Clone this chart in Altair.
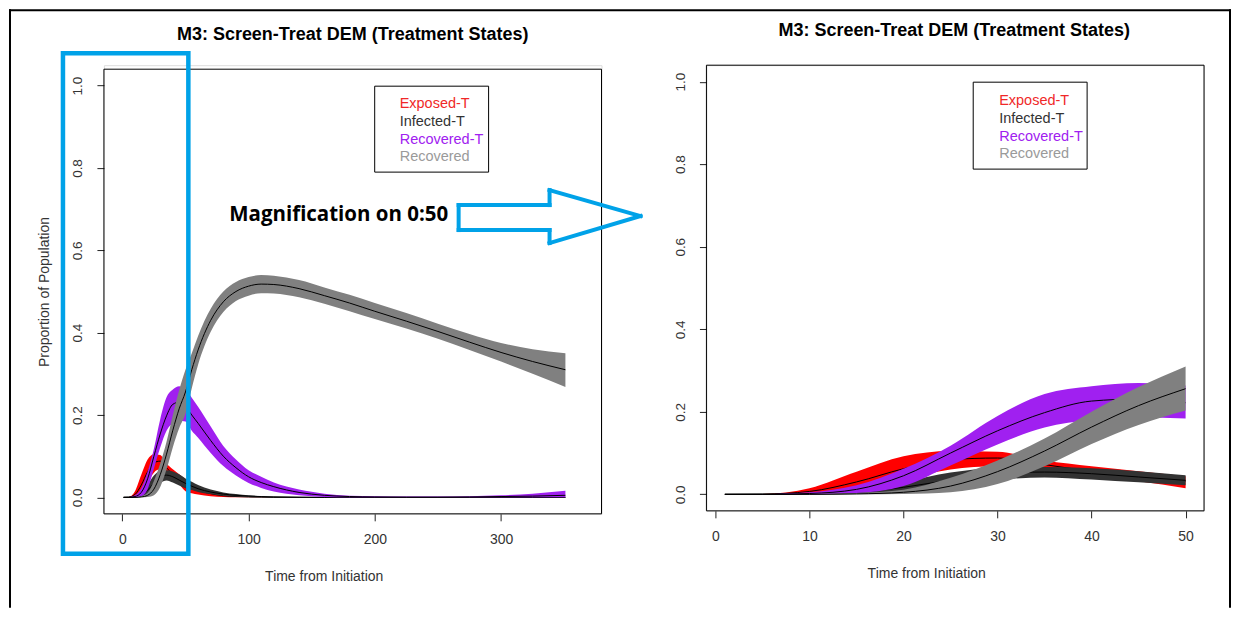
import altair as alt
import pandas as pd

# ---------------- data ----------------
times = [1, 5, 10, 15, 20, 25, 30, 35, 40, 45, 50, 55, 60, 70, 80, 90, 100,
         110, 120, 140, 160, 180, 200, 225, 250, 275, 300, 325, 351]

exposed_mean = [0, 0.0005, 0.007, 0.030, 0.062, 0.084, 0.088, 0.072, 0.056, 0.044, 0.032, 0.024, 0.017,
                0.009, 0.004, 0.002, 0.001, 0.0005, 0, 0, 0, 0, 0, 0, 0, 0, 0, 0, 0]
exposed_lo = [0, 0, 0.002, 0.012, 0.036, 0.060, 0.068, 0.058, 0.045, 0.032, 0.015, 0.010, 0.007,
              0.003, 0.001, 0, 0, 0, 0, 0, 0, 0, 0, 0, 0, 0, 0, 0, 0]
exposed_hi = [0, 0.001, 0.015, 0.055, 0.092, 0.105, 0.103, 0.082, 0.068, 0.056, 0.044, 0.034, 0.026,
              0.015, 0.008, 0.004, 0.002, 0.001, 0.0005, 0, 0, 0, 0, 0, 0, 0, 0, 0, 0]

infected_mean = [0, 0, 0.001, 0.005, 0.017, 0.035, 0.050, 0.054, 0.050, 0.042, 0.034, 0.027, 0.021,
                 0.013, 0.008, 0.005, 0.003, 0.002, 0.001, 0.0005, 0, 0, 0, 0, 0, 0, 0, 0, 0]
infected_lo = [0, 0, 0, 0.001, 0.007, 0.021, 0.035, 0.041, 0.036, 0.029, 0.022, 0.018, 0.013,
               0.008, 0.004, 0.002, 0.001, 0, 0, 0, 0, 0, 0, 0, 0, 0, 0, 0, 0]
infected_hi = [0, 0, 0.003, 0.011, 0.030, 0.053, 0.064, 0.066, 0.063, 0.056, 0.046, 0.038, 0.030,
               0.019, 0.012, 0.008, 0.005, 0.003, 0.002, 0.001, 0.001, 0.001, 0.001, 0.001, 0.001,
               0.001, 0.001, 0.001, 0.001]

rtreat_mean = [0, 0, 0.002, 0.012, 0.045, 0.100, 0.154, 0.198, 0.226, 0.231, 0.222, 0.200, 0.180,
               0.138, 0.100, 0.072, 0.050, 0.036, 0.026, 0.012, 0.005, 0.002, 0.001, 0.0005, 0.0005,
               0.001, 0.002, 0.003, 0.005]
rtreat_lo = [0, 0, 0, 0.003, 0.020, 0.070, 0.121, 0.162, 0.180, 0.186, 0.184, 0.162, 0.145,
             0.108, 0.076, 0.053, 0.035, 0.023, 0.014, 0.005, 0.001, 0, 0, 0, 0, 0, 0, 0, 0]
rtreat_hi = [0, 0.0005, 0.005, 0.022, 0.062, 0.118, 0.190, 0.243, 0.262, 0.270, 0.264, 0.242, 0.220,
             0.172, 0.125, 0.092, 0.066, 0.050, 0.036, 0.019, 0.009, 0.004, 0.003, 0.002, 0.002,
             0.003, 0.005, 0.009, 0.016]

recov_mean = [0, 0, 0, 0.001, 0.005, 0.020, 0.055, 0.105, 0.163, 0.215, 0.256, 0.310, 0.358,
              0.430, 0.475, 0.500, 0.513, 0.518, 0.517, 0.507, 0.490, 0.472, 0.452, 0.428, 0.403,
              0.377, 0.352, 0.330, 0.310]
recov_lo = [0, 0, 0, 0, 0.001, 0.005, 0.025, 0.068, 0.122, 0.168, 0.203, 0.265, 0.322,
            0.402, 0.450, 0.477, 0.490, 0.496, 0.495, 0.486, 0.470, 0.452, 0.433, 0.410, 0.385,
            0.358, 0.330, 0.300, 0.268]
recov_hi = [0, 0, 0.001, 0.003, 0.011, 0.040, 0.082, 0.135, 0.200, 0.260, 0.310, 0.350, 0.392,
            0.458, 0.500, 0.523, 0.535, 0.540, 0.538, 0.528, 0.510, 0.492, 0.472, 0.448, 0.422,
            0.397, 0.375, 0.360, 0.350]

series_names = ["Exposed-T", "Infected-T", "Recovered-T", "Recovered"]
band_colors = ["#FF0000", "#333333", "#A020F0", "#808080"]
legend_colors = ["#F02828", "#333333", "#A020F0", "#9A9A9A"]
means = [exposed_mean, infected_mean, rtreat_mean, recov_mean]
lows = [exposed_lo, infected_lo, rtreat_lo, recov_lo]
highs = [exposed_hi, infected_hi, rtreat_hi, recov_hi]

x_ticks_full = [0, 100, 200, 300]
x_ticks_zoom = [0, 10, 20, 30, 40, 50]
y_ticks = [0.0, 0.2, 0.4, 0.6, 0.8, 1.0]
title_text = "M3: Screen-Treat DEM (Treatment States)"
x_title = "Time from Initiation"
y_title = "Proportion of Population"
annot_text = "Magnification on 0:50"

rows = []
for name, m, lo, hi in zip(series_names, means, lows, highs):
    for t, a, b, c in zip(times, m, lo, hi):
        rows.append({"series": name, "t": t, "mean": a, "lo": b, "hi": c})
df = pd.DataFrame(rows)

FONT = "Liberation Sans"
BLUE = "#00A2E8"
W = 498


def one_row():
    return alt.Chart(pd.DataFrame({"k": [0]}))


def seg(x1, y1, x2, y2, color, width):
    return one_row().mark_rule(color=color, strokeWidth=width, strokeCap="square").encode(
        x=alt.value(x1), y=alt.value(y1), x2=alt.value(x2), y2=alt.value(y2))


def panel(tmax, xdomain, xticks, yrange, box_top, box_bottom, ytitle,
          xtitle_x, xtitle_y, title_xy, legend_box, legend_text_xy):
    data = df[df["t"] <= tmax]
    base = alt.Chart(data)
    xscale = alt.Scale(domain=xdomain, nice=False, zero=False)
    yscale = alt.Scale(domain=[-0.04, 1.04], range=yrange, nice=False, zero=False)
    xaxis = alt.Axis(values=xticks, format="d", domain=False, grid=False, tickSize=7,
                     tickColor="#222", labelFont=FONT, labelFontSize=14, labelColor="#333",
                     labelBaseline="top", labelPadding=12, labelFlush=False,
                     title=x_title, titleFont=FONT, titleFontSize=14, titleFontWeight="normal",
                     titleColor="#333", titleX=xtitle_x, titleY=xtitle_y,
                     titleAlign="center", titleBaseline="middle")
    yargs = dict(values=y_ticks, format=".1f", domain=False, grid=False, tickSize=7,
                 tickColor="#222", labelFont=FONT, labelFontSize=13.5, labelColor="#333",
                 labelAngle=270, labelAlign="center", labelBaseline="bottom",
                 labelPadding=12, labelFlush=False)
    if ytitle:
        yargs.update(title=y_title, titleFont=FONT, titleFontSize=14, titleFontWeight="normal",
                     titleColor="#333", titleAngle=270, titleX=-59,
                     titleY=(box_top + box_bottom) / 2, titleAlign="center",
                     titleBaseline="middle")
    else:
        yargs.update(title=None)
    yaxis = alt.Axis(**yargs)

    layers = []
    for name, col in zip(series_names, band_colors):
        sub = base.transform_filter(alt.datum.series == name)
        layers.append(sub.mark_area(color=col, interpolate="monotone", opacity=1).encode(
            x=alt.X("t:Q", scale=xscale, axis=xaxis),
            y=alt.Y("lo:Q", scale=yscale, axis=yaxis),
            y2="hi:Q"))
        layers.append(sub.mark_line(color="black", strokeWidth=1, interpolate="monotone").encode(
            x=alt.X("t:Q", scale=xscale, axis=xaxis),
            y=alt.Y("mean:Q", scale=yscale, axis=yaxis)))

    # plot box
    layers.append(one_row().mark_rect(fillOpacity=0, stroke="black", strokeWidth=1).encode(
        x=alt.value(0), x2=alt.value(W), y=alt.value(box_top), y2=alt.value(box_bottom)))
    # title
    layers.append(one_row().mark_text(text=title_text, font=FONT, fontSize=18, fontWeight="bold",
                                      color="black", align="center", baseline="middle").encode(
        x=alt.value(title_xy[0]), y=alt.value(title_xy[1])))
    # legend box and labels
    lx0, ly0, lx1, ly1 = legend_box
    layers.append(one_row().mark_rect(fill="white", stroke="black", strokeWidth=1).encode(
        x=alt.value(lx0), x2=alt.value(lx1), y=alt.value(ly0), y2=alt.value(ly1)))
    tx, ty, dy = legend_text_xy
    for i, (name, col) in enumerate(zip(series_names, legend_colors)):
        layers.append(one_row().mark_text(text=name, font=FONT, fontSize=14.5, color=col,
                                          align="left", baseline="middle").encode(
            x=alt.value(tx), y=alt.value(ty + i * dy)))
    return layers


# left panel: cell origin at page (102, 63)
left_layers = panel(400, [-14.6, 379.6], x_ticks_full, [449, 4], 4, 449, True,
                    220, 63, (249, -30), (271, 21, 385, 107), (296, 39, 17.7))

# annotations (outer frame, magnification box, arrow, text) in left-cell pixels
ann = []
ann.append(seg(-94, -55, 1127, -55, "black", 2))
ann.append(seg(-94, -55, -94, 542, "black", 2))
ann.append(seg(1127, -55, 1127, 542, "black", 2))
ann.append(one_row().mark_rect(fillOpacity=0, stroke=BLUE, strokeWidth=4.5).encode(
    x=alt.value(-41), x2=alt.value(84.5), y=alt.value(-12), y2=alt.value(489)))
arrow_pts = [(355, 140), (446, 140), (446, 125), (537, 151), (446, 178), (446, 165), (355, 165)]
for i in range(len(arrow_pts)):
    p, q = arrow_pts[i], arrow_pts[(i + 1) % len(arrow_pts)]
    ann.append(seg(p[0], p[1], q[0], q[1], BLUE, 4))
ann.append(one_row().mark_text(text=annot_text, font="Open Sans", fontSize=20.5, fontWeight="bold",
                               color="black", align="center", baseline="middle").encode(
    x=alt.value(235), y=alt.value(150)))

left = alt.layer(*(left_layers + ann)).properties(width=W, height=449)

# right panel: cell origin at page (705, 63)
right_layers = panel(50, [-0.96, 51.96], x_ticks_zoom, [446, 0], 0, 446, False,
                     220, 63, (248, -34), (267, 17, 381, 104), (293, 36, 17.7))
right = alt.layer(*right_layers).properties(width=W, height=446)

chart = alt.hconcat(left, right, spacing=105, bounds="flush").properties(
    padding=0, background="white"
).configure_view(stroke=None).configure(font=FONT)

chart.save("out.html", embed_options={"renderer": "svg", "actions": False})
